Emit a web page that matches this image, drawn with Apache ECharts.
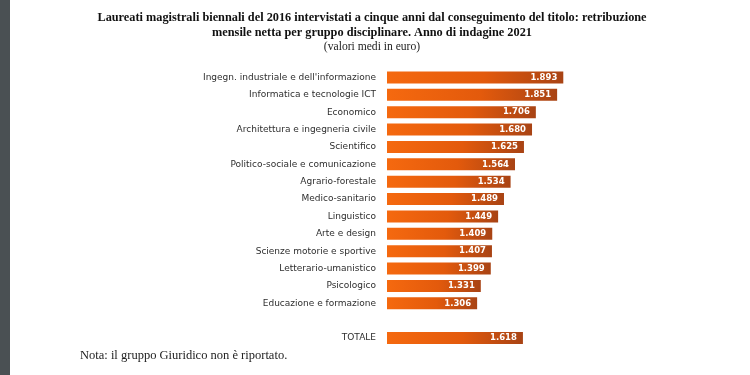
<!DOCTYPE html>
<html>
<head>
<meta charset="utf-8">
<script src="https://cdn.jsdelivr.net/npm/echarts@6/dist/echarts.min.js"></script>
<style>html,body{margin:0;padding:0;background:#fff}#c{width:750px;height:375px}</style>
</head>
<body>
<div id="c"></div>
<script>
var categories = [
  "Ingegn. industriale e dell'informazione",
  "Informatica e tecnologie ICT",
  "Economico",
  "Architettura e ingegneria civile",
  "Scientifico",
  "Politico-sociale e comunicazione",
  "Agrario-forestale",
  "Medico-sanitario",
  "Linguistico",
  "Arte e design",
  "Scienze motorie e sportive",
  "Letterario-umanistico",
  "Psicologico",
  "Educazione e formazione",
  "",
  "TOTALE"
];
var values = [1893, 1851, 1706, 1680, 1625, 1564, 1534, 1489, 1449, 1409, 1407, 1399, 1331, 1306, null, 1618];

var chart = echarts.init(document.getElementById('c'), null, {renderer: 'canvas'});
var grad = new echarts.graphic.LinearGradient(0, 0, 1, 0, [
  {offset: 0, color: '#f5690f'},
  {offset: 0.55, color: '#e35a0c'},
  {offset: 1, color: '#a84314'}
]);
chart.setOption({
  animation: false,
  backgroundColor: '#ffffff',
  title: [{
    text: 'Laureati magistrali biennali del 2016 intervistati a cinque anni dal conseguimento del titolo: retribuzione\nmensile netta per gruppo disciplinare. Anno di indagine 2021',
    left: 372, top: 10.5, textAlign: 'center', padding: 0,
    textStyle: {fontFamily: 'Liberation Serif', fontWeight: 'bold', fontSize: 12.3, lineHeight: 15, color: '#111'}
  }, {
    text: '(valori medi in euro)',
    left: 372, top: 41, textAlign: 'center', padding: 0,
    textStyle: {fontFamily: 'Liberation Serif', fontWeight: 'normal', fontSize: 11.6, color: '#222'}
  }, {
    text: 'Nota: il gruppo Giuridico non è riportato.',
    left: 80, top: 349, padding: 0,
    textStyle: {fontFamily: 'Liberation Serif', fontWeight: 'normal', fontSize: 12.5, color: '#222'}
  }],
  graphic: [{
    type: 'rect', shape: {x: 0, y: 0, width: 10, height: 375},
    style: {fill: '#4a5053'}, silent: true
  }],
  grid: {left: 387, right: 171, top: 68.8, height: 278, containLabel: false},
  xAxis: {type: 'value', min: 692, max: 2000, show: false},
  yAxis: {
    type: 'category', data: categories, inverse: true,
    axisLine: {show: false}, axisTick: {show: false}, splitLine: {show: false},
    axisLabel: {margin: 11, fontFamily: 'DejaVu Sans', fontSize: 9, color: '#2e2e2e'}
  },
  series: [{
    type: 'bar', data: values, barWidth: 12,
    itemStyle: {color: grad},
    label: {
      show: true, position: 'insideRight', distance: 6,
      formatter: function (p) { return p.value == null ? '' : String(p.value).replace(/(\d)(\d{3})$/, '$1.$2'); },
      fontFamily: 'DejaVu Sans', fontWeight: 'bold', fontSize: 8.5, color: '#ffffff'
    }
  }]
});
</script>
</body>
</html>
